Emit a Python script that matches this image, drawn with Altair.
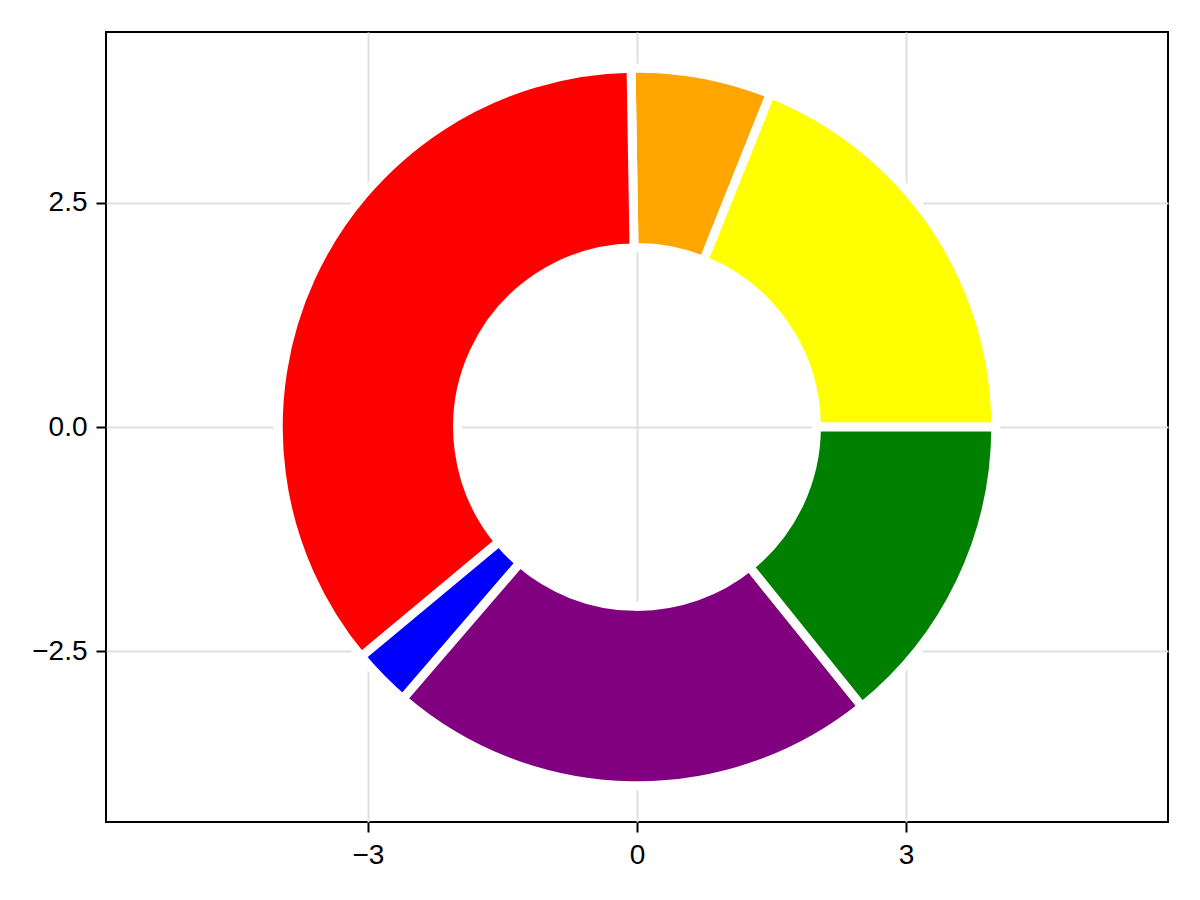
import math
import altair as alt
import pandas as pd

values = [36, 12, 68, 5, 42, 27]
colors = ["#ffff00", "#ffa500", "#ff0000", "#0000ff", "#800080", "#008000"]
names = ["a", "b", "c", "d", "e", "f"]
x_ticks = [-3, 0, 3]
y_ticks = [-2.5, 0, 2.5]
x_domain = [-5.92, 5.92]
y_domain = [-4.40, 4.40]

W, H = 1062, 790
px_per_unit = W / (x_domain[1] - x_domain[0])
outer_r = 4 * px_per_unit
inner_r = 2 * px_per_unit

pie_df = pd.DataFrame({"name": names, "value": values, "idx": list(range(len(values)))})
center_df = pd.DataFrame({"x": [0.0], "y": [0.0]})

axis_style = dict(
    title=None, grid=True, gridColor="#e0e0e0", gridWidth=2,
    domain=False, ticks=True, tickColor="black", tickWidth=2, tickSize=10,
    labelFont="Liberation Sans", labelFontSize=28, labelColor="black",
    labelExpr="replace(datum.label, '-', '\u2212')",
)

axes = alt.Chart(center_df).mark_point(opacity=0).encode(
    x=alt.X("x:Q", scale=alt.Scale(domain=x_domain, nice=False, zero=False),
            axis=alt.Axis(values=x_ticks, format="d", labelPadding=9, **axis_style)),
    y=alt.Y("y:Q", scale=alt.Scale(domain=y_domain, nice=False, zero=False),
            axis=alt.Axis(values=y_ticks, format=".1f", labelPadding=9, **axis_style)),
)

pie = alt.Chart(pie_df).mark_arc(
    outerRadius=outer_r, innerRadius=inner_r, stroke="white", strokeWidth=9
).encode(
    theta=alt.Theta("value:Q", stack=True,
                    scale=alt.Scale(range=[math.pi / 2, math.pi / 2 - 2 * math.pi])),
    color=alt.Color("name:N", scale=alt.Scale(domain=names, range=colors), legend=None),
    order=alt.Order("idx:Q"),
)

chart = alt.layer(axes, pie).properties(
    width=W, height=H,
    autosize=alt.AutoSizeParams(type="none"),
    padding={"left": 98, "top": 24, "right": 24, "bottom": 70},
    background="white",
).configure_view(
    stroke="black", strokeWidth=2
)

chart.save("out.html", embed_options={"renderer": "svg", "actions": False})
